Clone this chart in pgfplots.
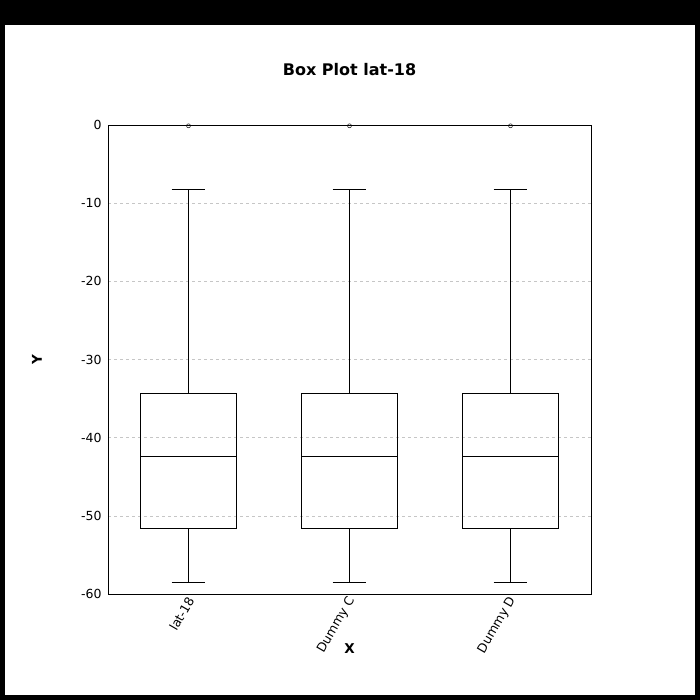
\documentclass[border=0pt]{standalone}
\usepackage{pgfplots}
\pgfplotsset{compat=1.18}
\usepackage{fontspec}
\setmainfont{DejaVu Sans}
\begin{document}
\begin{tikzpicture}
\fill[black] (0pt,0pt) rectangle (700pt,700pt);
\fill[white] (5pt,5pt) rectangle (695pt,675pt);
\begin{axis}[
  at={(108pt,106pt)}, anchor=south west,
  scale only axis, width=483pt, height=469pt,
  xmin=0.5, xmax=3.5, ymin=-60, ymax=0,
  xtick={1,2,3}, xticklabels={lat-18,Dummy C,Dummy D},
  ytick={-60,-50,-40,-30,-20,-10,0},
  major tick length=0pt,
  xticklabel style={xshift=4pt, yshift=-1pt, rotate=60, anchor=east, font=\fontsize{12.5}{14}\selectfont},
  yticklabel style={font=\fontsize{12.5}{14}\selectfont, xshift=-3pt},
  /pgf/number format/assume math mode=true,
  ymajorgrids, grid style={dashed, gray!45, line width=0.5pt},
  axis line style={line width=0.8pt},
  title={\textbf{Box Plot lat-18}}, title style={font=\fontsize{16}{18}\selectfont, at={(0.5,1)}, anchor=center, yshift=49pt},
  xlabel={\textbf{X}}, xlabel style={font=\fontsize{13.5}{15}\selectfont, at={(0.5,0)}, anchor=center, yshift=-55pt},
  ylabel={\textbf{Y}}, ylabel style={font=\fontsize{13.5}{15}\selectfont, at={(0,0.5)}, anchor=center, yshift=71pt},
  every axis plot/.append style={black, line width=0.8pt},
]
% boxes: Q1=-51.6, Q3=-34.4
\addplot[mark=none] coordinates {(0.7,-51.6) (1.3,-51.6) (1.3,-34.4) (0.7,-34.4) (0.7,-51.6)};
\addplot[mark=none] coordinates {(1.7,-51.6) (2.3,-51.6) (2.3,-34.4) (1.7,-34.4) (1.7,-51.6)};
\addplot[mark=none] coordinates {(2.7,-51.6) (3.3,-51.6) (3.3,-34.4) (2.7,-34.4) (2.7,-51.6)};
% medians
\addplot[mark=none] coordinates {(0.7,-42.4) (1.3,-42.4)};
\addplot[mark=none] coordinates {(1.7,-42.4) (2.3,-42.4)};
\addplot[mark=none] coordinates {(2.7,-42.4) (3.3,-42.4)};
% whiskers
\addplot[mark=none] coordinates {(1,-34.4) (1,-8.3)};
\addplot[mark=none] coordinates {(2,-34.4) (2,-8.3)};
\addplot[mark=none] coordinates {(3,-34.4) (3,-8.3)};
\addplot[mark=none] coordinates {(1,-51.6) (1,-58.5)};
\addplot[mark=none] coordinates {(2,-51.6) (2,-58.5)};
\addplot[mark=none] coordinates {(3,-51.6) (3,-58.5)};
% caps
\addplot[mark=none] coordinates {(0.895,-8.3) (1.105,-8.3)};
\addplot[mark=none] coordinates {(1.895,-8.3) (2.105,-8.3)};
\addplot[mark=none] coordinates {(2.895,-8.3) (3.105,-8.3)};
\addplot[mark=none] coordinates {(0.895,-58.5) (1.105,-58.5)};
\addplot[mark=none] coordinates {(1.895,-58.5) (2.105,-58.5)};
\addplot[mark=none] coordinates {(2.895,-58.5) (3.105,-58.5)};
% outliers
\addplot[only marks, mark=o, mark size=2pt, mark options={line width=0.5pt}] coordinates {(1,-0.1) (2,-0.1) (3,-0.1)};
\end{axis}
\end{tikzpicture}
\end{document}
